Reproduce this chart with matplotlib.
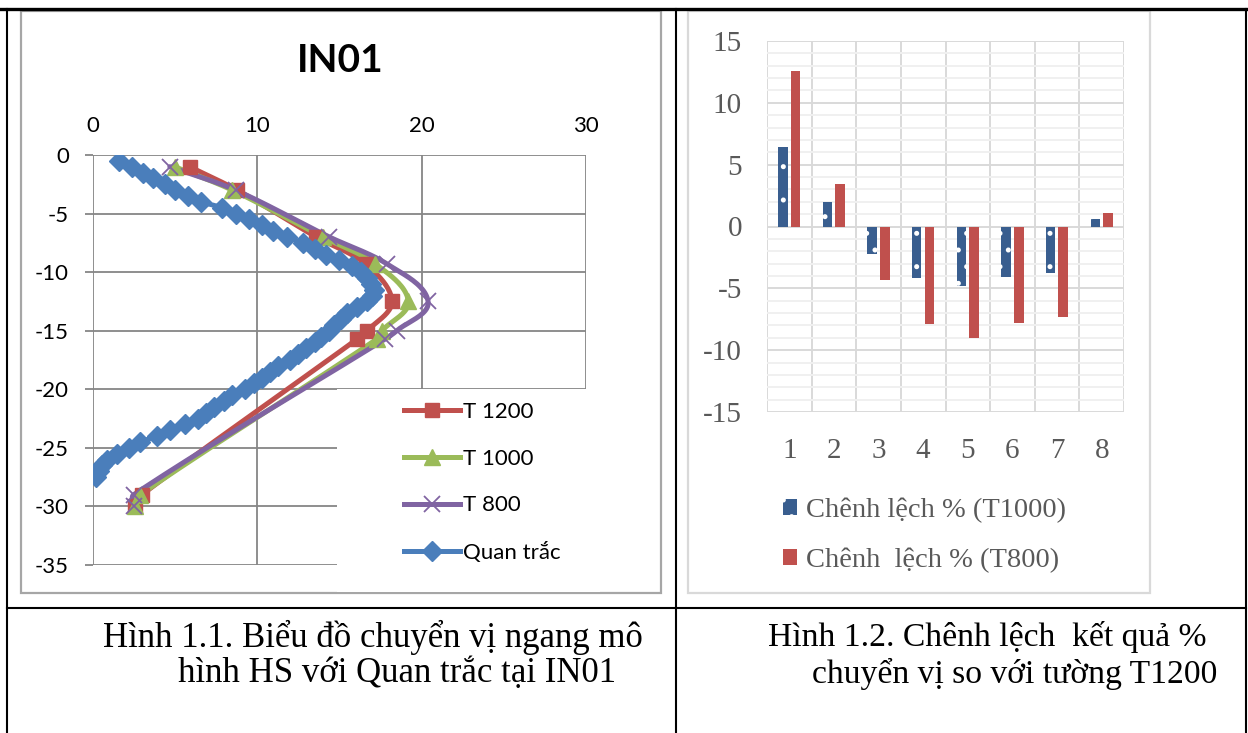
import numpy as np
import matplotlib.pyplot as plt
from matplotlib.patches import Rectangle
from matplotlib.lines import Line2D

W, H = 1248, 733

# ----------------------------
# Data - Hinh 1.1 (IN01)
# ----------------------------
model_depth = [-1.0, -3.0, -7.0, -9.3, -12.5, -15.0, -15.7, -29.0, -30.0]
t1200 = [5.9, 8.8, 13.6, 16.6, 18.2, 16.7, 16.1, 3.0, 2.6]
t1000 = [5.0, 8.5, 14.0, 17.2, 19.2, 17.6, 17.3, 2.9, 2.6]
t800 = [4.7, 8.7, 14.4, 17.9, 20.4, 18.5, 17.8, 2.5, 2.5]

obs_depth = [-0.5, -1.0, -1.5, -2.0, -2.5, -3.0, -3.5, -4.0, -4.5, -5.0,
             -5.5, -6.0, -6.5, -7.0, -7.5, -8.0, -8.5, -9.0, -9.5, -10.0,
             -10.5, -11.0, -11.5, -12.0, -12.5, -13.0, -13.5, -14.0, -14.5, -15.0,
             -15.5, -16.0, -16.5, -17.0, -17.5, -18.0, -18.5, -19.0, -19.5, -20.0,
             -20.5, -21.0, -21.5, -22.0, -22.5, -23.0, -23.5, -24.0, -24.5, -25.0,
             -25.5, -26.0, -26.5, -27.0, -27.5]
obs = [1.6, 2.4, 3.1, 3.7, 4.4, 5.0, 5.8, 6.6, 7.9, 8.7,
       9.5, 10.3, 11.0, 11.8, 12.8, 13.5, 14.2, 15.0, 15.8, 16.3,
       16.7, 16.9, 17.1, 17.0, 16.7, 16.1, 15.5, 15.1, 14.7, 14.4,
       13.9, 13.5, 13.0, 12.5, 12.0, 11.3, 10.8, 10.3, 9.8, 9.3,
       8.5, 8.0, 7.4, 6.9, 6.4, 5.6, 4.7, 3.9, 2.9, 2.2,
       1.5, 0.9, 0.6, 0.4, 0.2]

# ----------------------------
# Data - Hinh 1.2
# ----------------------------
cats = [1, 2, 3, 4, 5, 6, 7, 8]
diff_t1000 = [6.4, 2.0, -2.2, -4.2, -4.8, -4.1, -3.8, 0.6]
diff_t800 = [12.6, 3.4, -4.3, -7.9, -9.0, -7.8, -7.3, 1.1]

RED, GREEN, PURPLE, BLUE = "#C0504D", "#9BBB59", "#8064A2", "#4A7EBB"
BAR_BLUE, BAR_RED = "#395E8F", "#C0504D"
SANS = ["Lato", "DejaVu Sans"]
SERIF = ["Liberation Serif", "DejaVu Serif"]


def box(x0, y0, x1, y1):
    return [x0 / W, 1 - y1 / H, (x1 - x0) / W, (y1 - y0) / H]


def smooth(xs, ys, n=24, sx=16.45, sy=11.72):
    # smoothed line like Excel (bezier through the points)
    p = np.column_stack([np.array(xs) * sx, np.array(ys) * sy])
    q = np.vstack([p[0], p, p[-1]])
    out = []
    for i in range(1, len(q) - 2):
        p0, p1, p2, p3 = q[i - 1], q[i], q[i + 1], q[i + 2]
        L = np.linalg.norm(p2 - p1)
        d1 = p2 - p0
        d2 = p3 - p1
        d1 = d1 / (np.linalg.norm(d1) or 1)
        d2 = d2 / (np.linalg.norm(d2) or 1)
        c1 = p1 + d1 * L / 3.2
        c2 = p2 - d2 * L / 3.2
        t = np.linspace(0, 1, n)[:, None]
        out.append((1 - t) ** 3 * p1 + 3 * (1 - t) ** 2 * t * c1
                   + 3 * (1 - t) * t ** 2 * c2 + t ** 3 * p2)
    pts = np.vstack(out)
    return pts[:, 0] / sx, pts[:, 1] / sy


plt.rcParams["hatch.color"] = "white"
plt.rcParams["hatch.linewidth"] = 1.2
plt.rcParams["axes.unicode_minus"] = False

fig = plt.figure(figsize=(W / 100, H / 100), dpi=100)

# ----------------------------
# Table lines / frames / captions
# ----------------------------
bg = fig.add_axes([0, 0, 1, 1], zorder=-1)
bg.set_xlim(0, W)
bg.set_ylim(H, 0)
bg.axis("off")
bg.plot([0, W], [9, 9], color="black", lw=2.4)
bg.plot([7, 7], [9, H], color="black", lw=1.5)
bg.plot([676, 676], [9, H], color="black", lw=1.5)
bg.plot([1246, 1246], [9, H], color="black", lw=1.5)
bg.plot([7, 1246], [608, 608], color="black", lw=1.5)
bg.add_patch(Rectangle((21, 11), 640, 582, fill=False, ec="#a6a6a6", lw=1.6))
bg.add_patch(Rectangle((688, 11), 462, 582, fill=False, ec="#d9d9d9", lw=1.6))

cap = dict(family=SERIF, va="center", ha="left", color="black")
bg.text(103, 637, "Hình 1.1. Biểu đồ chuyển vị ngang mô", fontsize=25, **cap)
bg.text(178, 674, "hình HS với Quan trắc tại IN01", fontsize=25, **cap)
bg.text(768, 637, "Hình 1.2. Chênh lệch  kết quả %", fontsize=24.2, **cap)
bg.text(812, 674, "chuyển vị so với tường T1200", fontsize=24.2, **cap)

# ----------------------------
# Left chart
# ----------------------------
ax = fig.add_axes(box(92.5, 155, 586, 565))
ax.set_xlim(0, 30)
ax.set_ylim(-35, 0)
ax.set_xticks([0, 10, 20, 30])
ax.set_yticks([0, -5, -10, -15, -20, -25, -30, -35])
ax.xaxis.tick_top()
ax.tick_params(axis="x", length=0, pad=14, labelsize=16, labelfontfamily=SANS)
ax.tick_params(axis="y", length=6, width=1.3, color="#868686", pad=11,
               labelsize=16, labelfontfamily=SANS)
ax.grid(True, color="#868686", lw=1.3)
ax.set_axisbelow(True)
for s in ax.spines.values():
    s.set_visible(False)

# white legend area hides grid
ax.add_patch(Rectangle((337 / W, 1 - 592 / H), 263 / W, 203 / H,
                       transform=fig.transFigure, fc="white", ec="none",
                       zorder=1, clip_on=False))

series = [("T 1200", t1200, RED, "s", 10.5, 1.0),
          ("T 1000", t1000, GREEN, "^", 12, 1.0),
          ("T 800", t800, PURPLE, "x", 11, 1.3)]
handles = []
for name, vals, col, mk, ms, mew in series:
    sx_, sy_ = smooth(vals, model_depth)
    ax.plot(sx_, sy_, color=col, lw=3.6, solid_capstyle="round", zorder=2)
    ax.plot(vals, model_depth, ls="none", marker=mk, ms=ms, color=col,
            mew=mew, zorder=3)
    handles.append(Line2D([], [], color=col, lw=3.6, marker=mk, ms=ms, mew=mew))

ax.plot(obs, obs_depth, color=BLUE, lw=3.6, marker="D", ms=10.5, zorder=4)
handles.append(Line2D([], [], color=BLUE, lw=3.6, marker="D", ms=10.5))

ax.legend(handles, ["T 1200", "T 1000", "T 800", "Quan trắc"],
          loc="upper left", bbox_to_anchor=(404 / W, 1 - 402 / H),
          bbox_transform=fig.transFigure, frameon=False, borderpad=0,
          borderaxespad=0, handlelength=2.5, handletextpad=0.15,
          labelspacing=1.2, prop={"family": SANS, "size": 16})

fig.text(340 / W, 1 - 60 / H, "IN01", ha="center", va="center",
         fontsize=28, fontweight="bold", family=SANS)

# ----------------------------
# Right chart
# ----------------------------
ax2 = fig.add_axes(box(767, 41, 1124, 412))
ax2.set_xlim(0.5, 8.5)
ax2.set_ylim(-15, 15)
ax2.set_yticks(range(-15, 16, 5))
ax2.set_yticks(range(-15, 16, 1), minor=True)
ax2.set_xticks(cats)
ax2.set_xticks(np.arange(0.5, 9, 1), minor=True)
ax2.grid(True, which="minor", axis="y", color="#f0f0f0", lw=1.4)
ax2.grid(True, which="major", axis="y", color="#d9d9d9", lw=1.4)
ax2.grid(True, which="minor", axis="x", color="#d9d9d9", lw=1.4)
ax2.set_axisbelow(True)
for s in ax2.spines.values():
    s.set_visible(False)
ax2.tick_params(which="both", length=0)
ax2.tick_params(axis="y", pad=18, labelsize=21, labelcolor="#595959",
                labelfontfamily=SERIF)
ax2.tick_params(axis="x", pad=19, labelsize=21, labelcolor="#595959",
                labelfontfamily=SERIF)

x = np.array(cats)
ax2.bar(x - 0.145, diff_t1000, width=0.21, color=BAR_BLUE, hatch=".",
        lw=0, label="Chênh lệch % (T1000)")
ax2.bar(x + 0.14, diff_t800, width=0.22, color=BAR_RED, lw=0,
        label="Chênh  lệch % (T800)")

ax2.legend(loc="upper left", bbox_to_anchor=(783 / W, 1 - 498 / H),
           bbox_transform=fig.transFigure, frameon=False, borderpad=0,
           borderaxespad=0, handlelength=0.5, handleheight=0.5,
           handletextpad=0.3, labelspacing=0.85,
           prop={"family": SERIF, "size": 20.5}, labelcolor="#595959")

fig.savefig("out.png", dpi=100)
